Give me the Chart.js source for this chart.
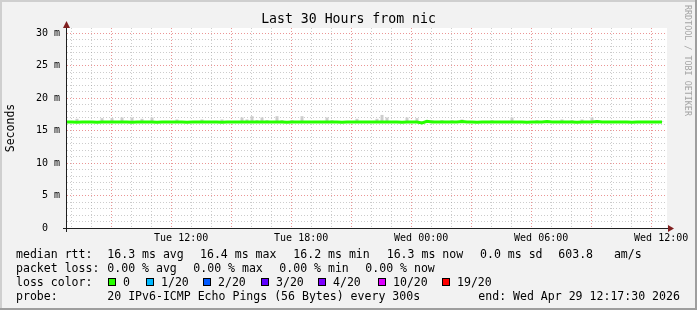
<!DOCTYPE html>
<html><head><meta charset="utf-8">
<script src="https://cdn.jsdelivr.net/npm/chart.js@4/dist/chart.umd.min.js"></script>
<style>
html,body{margin:0;padding:0;background:#f2f2f2;}
#wrap{position:relative;width:697px;height:310px;overflow:hidden;}
canvas{position:absolute;left:0;top:0;}
.t{position:absolute;font-family:'DejaVu Sans Mono',monospace;white-space:pre;color:#000;font-size:11.55px;line-height:14px;}
#title{position:absolute;left:0;width:697px;top:11px;text-align:center;font-family:'DejaVu Sans Mono',monospace;font-size:13.2px;line-height:16px;white-space:pre;color:#000;}
#wm{position:absolute;left:683px;top:5px;writing-mode:vertical-rl;font-family:'DejaVu Sans Mono',monospace;font-size:8.4px;line-height:10px;color:#a4a4a4;white-space:pre;}
.sw{position:absolute;width:6px;height:6px;border:1px solid #000;}
</style></head><body>
<div id="wrap">
<canvas id="c" width="697" height="310"></canvas>
</div>
<script>
// ---------- data ----------
const chartTitle = 'Last 30 Hours from nic';
const yAxisTitle = 'Seconds';
const watermark = 'RRDTOOL / TOBI OETIKER';
const spanHours = 30;             // Last 30 hours
const startClock = 6 + 17.5 / 60; // Tue 06:17:30
const stepHours = 0.25;           // one sample per 15 minutes
const yMax = 30.77;               // ms
const yTickValues = [0, 5, 10, 15, 20, 25, 30];
const yTickLabels = ['0  ', '5 m', '10 m', '15 m', '20 m', '25 m', '30 m'];
const xLabelClock = [12, 18, 24, 30, 36];
const xTickLabels = ['Tue 12:00', 'Tue 18:00', 'Wed 00:00', 'Wed 06:00', 'Wed 12:00'];

// median rtt (ms)
const median = [
16.3,16.3,16.28,16.3,16.3,16.3,16.28,16.3,16.3,16.3,
16.3,16.3,16.3,16.28,16.3,16.3,16.3,16.3,16.28,16.3,
16.3,16.3,16.3,16.3,16.28,16.3,16.3,16.3,16.3,16.3,
16.3,16.28,16.3,16.3,16.3,16.3,16.3,16.3,16.3,16.3,
16.3,16.3,16.3,16.3,16.28,16.3,16.3,16.3,16.3,16.3,
16.3,16.3,16.3,16.3,16.3,16.28,16.3,16.3,16.3,16.3,
16.3,16.3,16.3,16.3,16.3,16.3,16.3,16.28,16.3,16.3,
16.3,16.15,16.42,16.3,16.3,16.32,16.3,16.3,16.3,16.4,
16.3,16.3,16.28,16.3,16.3,16.3,16.3,16.3,16.3,16.3,
16.3,16.3,16.28,16.3,16.3,16.3,16.38,16.3,16.3,16.3,
16.3,16.3,16.28,16.3,16.3,16.3,16.38,16.3,16.3,16.3,
16.3,16.3,16.3,16.28,16.3,16.3,16.3,16.3,16.3,16.3];

// top of the ping "smoke" (ms)
const smokeTop = [
16.4,16.4,16.8,16.4,16.4,16.4,16.4,16.9,16.4,16.9,
16.4,17.0,16.4,17.0,16.4,16.8,16.4,17.0,16.4,16.4,
16.4,16.4,16.7,16.4,16.4,16.4,16.4,16.7,16.4,16.4,
16.4,16.7,16.4,16.4,16.4,17.0,16.7,17.2,16.6,17.0,
16.6,16.4,17.2,16.6,16.4,16.6,16.4,17.2,16.4,16.4,
16.4,16.4,17.0,16.6,16.4,16.4,16.4,16.4,16.8,16.4,
16.4,16.4,16.8,17.4,17.0,16.4,16.4,16.4,17.0,16.4,
16.9,16.4,16.6,16.6,16.4,16.6,16.4,16.6,16.4,16.7,
16.4,16.4,16.4,16.4,16.4,16.6,16.4,16.4,16.4,17.0,
16.4,16.4,16.4,16.4,16.6,16.4,16.4,16.4,16.4,16.7,
16.4,16.6,16.4,16.7,16.4,17.0,16.4,16.4,16.4,16.4,
16.4,16.4,16.4,16.4,16.4,16.4,16.4,16.4,16.4,16.4];

const rttStats = ['16.3 ms avg', '16.4 ms max', '16.2 ms min', '16.3 ms now', '0.0 ms sd', '603.8   am/s'];
const lossStats = ['0.00 % avg', '0.00 % max', '0.00 % min', '0.00 % now'];
const lossLabels = ['0', '1/20', '2/20', '3/20', '4/20', '10/20', '19/20'];
const lossColors = ['#26ff00', '#00b8ff', '#0059ff', '#5e00ff', '#7e00ff', '#dd00ff', '#ff0000'];
const probeText = '20 IPv6-ICMP Echo Pings (56 Bytes) every 300s';
const endText = 'end: Wed Apr 29 12:17:30 2026';

// ---------- text layout ----------
const wrap = document.getElementById('wrap');
function addText(cls, txt, left, top) {
  const d = document.createElement('div');
  d.className = cls; d.textContent = txt;
  d.style.left = left + 'px'; d.style.top = top + 'px';
  wrap.appendChild(d); return d;
}
const tt = document.createElement('div'); tt.id = 'title'; tt.textContent = chartTitle; wrap.appendChild(tt);
const wm = document.createElement('div'); wm.id = 'wm'; wm.textContent = watermark; wrap.appendChild(wm);

const L1 = 247, L2 = 261, L3 = 275, L4 = 289;
addText('t', 'median rtt:', 16, L1);
[107.3, 200, 293.3, 386.7, 480, 558.3].forEach((x, i) => addText('t', rttStats[i], x, L1));
addText('t', 'packet loss:', 16, L2);
[107.3, 193.3, 279.3, 365.3].forEach((x, i) => addText('t', lossStats[i], x, L2));
addText('t', 'loss color:', 16, L3);
[108, 146, 203, 261, 318, 378, 442].forEach((x, i) => {
  const s = document.createElement('div'); s.className = 'sw';
  s.style.left = x + 'px'; s.style.top = '278px'; s.style.background = lossColors[i];
  wrap.appendChild(s);
  addText('t', lossLabels[i], x + 15, L3);
});
addText('t', 'probe:', 16, L4);
addText('t', probeText, 107.3, L4);
addText('t', endText, 478.3, L4);

// ---------- chart ----------
const hourTicks = [];
for (let h = Math.ceil(startClock); h - startClock <= spanHours + 1e-9; h++) hourTicks.push(h - startClock);
const yGridValues = [];
for (let v = 0; v <= 30; v++) yGridValues.push(v);

const MAJOR = 'rgba(222,79,79,0.6)';
const MINOR = 'rgba(143,143,143,0.45)';
const FONT = 'DejaVu Sans Mono';

const frame = {
  id: 'frame',
  beforeDraw(chart) {
    const c = chart.ctx, a = chart.chartArea;
    c.save();
    c.fillStyle = '#f2f2f2'; c.fillRect(0, 0, chart.width, chart.height);
    c.fillStyle = '#ffffff'; c.fillRect(a.left, a.top, a.right - a.left, a.bottom - a.top);
    c.restore();
  },
  afterDraw(chart) {
    const c = chart.ctx, a = chart.chartArea;
    c.save();
    c.strokeStyle = '#1f1f1f'; c.lineWidth = 1;
    c.beginPath(); c.moveTo(a.left - 4, a.bottom + 0.5); c.lineTo(a.right + 2, a.bottom + 0.5); c.stroke();
    c.beginPath(); c.moveTo(a.left - 0.5, a.bottom + 4); c.lineTo(a.left - 0.5, a.top - 2); c.stroke();
    c.fillStyle = 'rgb(128,31,31)';
    c.beginPath(); c.moveTo(a.right + 1, a.bottom - 3); c.lineTo(a.right + 1, a.bottom + 4); c.lineTo(a.right + 7, a.bottom + 0.5); c.closePath(); c.fill();
    c.beginPath(); c.moveTo(a.left - 4, a.top); c.lineTo(a.left + 3, a.top); c.lineTo(a.left - 0.5, a.top - 7); c.closePath(); c.fill();
    c.fillStyle = '#cfcfcf'; c.fillRect(0, 0, chart.width, 2); c.fillRect(0, 0, 2, chart.height);
    c.fillStyle = '#9e9e9e'; c.fillRect(0, chart.height - 2, chart.width, 2); c.fillRect(chart.width - 2, 0, 2, chart.height);
    c.restore();
  }
};

function tickVal(ctx) { return ctx && ctx.tick ? ctx.tick.value : null; }

new Chart(document.getElementById('c'), {
  data: {
    datasets: [
      { type: 'line', label: 'median rtt',
        data: median.map((v, i) => ({ x: i * stepHours, y: v })),
        borderColor: lossColors[0], borderWidth: 3, pointRadius: 0, tension: 0, order: 1 },
      { type: 'bar', label: 'smoke',
        data: median.map((v, i) => ({ x: i * stepHours, y: [v, smokeTop[i]] })),
        backgroundColor: '#cdcdcd', borderWidth: 0, barPercentage: 1, categoryPercentage: 0.6, order: 2 }
    ]
  },
  options: {
    responsive: false, animation: false, devicePixelRatio: 1,
    layout: { padding: { left: 0, right: 30, top: 28, bottom: 62 } },
    plugins: { legend: { display: false }, tooltip: { enabled: false }, title: { display: false } },
    scales: {
      x: {
        type: 'linear', min: 0, max: spanHours, offset: false,
        afterBuildTicks: s => { s.ticks = hourTicks.map(v => ({ value: v })); },
        afterFit: s => { s.height = 20; s.paddingLeft = 0; s.paddingRight = 0; },
        ticks: {
          autoSkip: false, maxRotation: 0, minRotation: 0, padding: 4, color: '#000',
          font: { family: FONT, size: 10 },
          callback: v => {
            const k = xLabelClock.findIndex(c => Math.abs(c - startClock - v) < 1e-6);
            return k >= 0 ? xTickLabels[k] : '';
          }
        },
        grid: {
          drawTicks: false, lineWidth: 1,
          color: ctx => { const v = tickVal(ctx); return v !== null && Math.round(startClock + v) % 3 === 0 ? MAJOR : MINOR; }
        },
        border: { display: false, dash: [1, 2] }
      },
      y: {
        type: 'linear', min: 0, max: yMax,
        afterBuildTicks: s => { s.ticks = yGridValues.map(v => ({ value: v })); },
        afterFit: s => { s.width = 67; s.paddingTop = 0; s.paddingBottom = 0; },
        ticks: {
          autoSkip: false, padding: 7, color: '#000', font: { family: FONT, size: 10 },
          callback: v => { const k = yTickValues.indexOf(v); return k >= 0 ? yTickLabels[k] : ''; }
        },
        grid: {
          drawTicks: false, lineWidth: 1,
          color: ctx => { const v = tickVal(ctx); return v !== null && v % 5 === 0 ? MAJOR : MINOR; }
        },
        border: { display: false, dash: [1, 2] },
        title: { display: true, text: yAxisTitle, color: '#000', font: { family: FONT, size: 11.5 }, padding: { top: 4, bottom: 0 } }
      }
    }
  },
  plugins: [frame]
});
</script>
</body></html>
